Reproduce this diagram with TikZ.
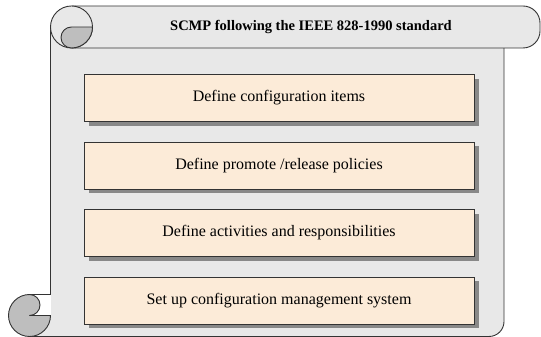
\documentclass[tikz,border=0pt]{standalone}
\usepackage{fontspec}
\setmainfont{Liberation Serif}
\usetikzlibrary{shadows}
\definecolor{bodygray}{HTML}{E8E8E8}
\definecolor{curlgray}{HTML}{BEBEBE}
\definecolor{peach}{HTML}{FCEBD8}
\definecolor{shadowgray}{HTML}{888888}
\definecolor{edge}{HTML}{333333}
\tikzset{
  outline/.style={draw=edge, line width=0.9pt, line join=round},
  stepbox/.style={rectangle, draw=edge, line width=0.9pt, fill=peach,
    minimum width=390pt, minimum height=47pt, inner sep=0pt,
    font=\fontsize{16}{19}\selectfont,
    drop shadow={shadow xshift=4.5pt, shadow yshift=-4.5pt, fill=shadowgray, opacity=1}},
  titletext/.style={font=\fontsize{14.5}{17}\selectfont\bfseries, inner sep=0pt}
}
\begin{document}
\begin{tikzpicture}[x=1pt,y=1pt]
\useasboundingbox (0,0) rectangle (541,337);
% body of the scroll
\fill[bodygray] (50.5,310) -- (504,310) -- (504,15.5) arc[start angle=0,end angle=-90,radius=15] -- (29.5,0.5) -- (29.5,42.5) -- (50.5,42.5) -- cycle;
\draw[outline] (50.5,310) -- (50.5,21.5);
\draw[outline] (504,289) -- (504,15.5) arc[start angle=0,end angle=-90,radius=15] -- (29.5,0.5);
% top bar
\filldraw[outline, fill=bodygray, rounded corners=17pt] (71.5,331) -- (540,331) -- (540,289) -- (71.5,289);
% top curl
\filldraw[outline, fill=bodygray] (71.5,310) circle[radius=21];
\filldraw[outline, fill=curlgray] (71.5,310) -- (92.5,310) arc[start angle=0,end angle=-90,radius=21]
  arc[start angle=270,end angle=90,radius=10.5] -- cycle;
% bottom curl
\fill[white] (29.5,42.5) -- (50.5,42.5) -- (50.5,21.5) -- (29.5,21.5) -- cycle;
\draw[outline] (29.5,42.5) -- (50.5,42.5);
\filldraw[outline, fill=curlgray] (29.5,21.5) arc[start angle=270,end angle=450,radius=10.5]
  arc[start angle=90,end angle=360,radius=21] -- cycle;
% title
\node[titletext] (title) at (311,310) {SCMP following the IEEE 828-1990 standard};
% steps
\node[stepbox] (s1) at (279,239) {Define configuration items};
\node[stepbox] (s2) at (279,171.5) {Define promote /release policies};
\node[stepbox] (s3) at (279,104) {Define activities and responsibilities};
\node[stepbox] (s4) at (279,36.5) {Set up configuration management system};
\end{tikzpicture}
\end{document}
